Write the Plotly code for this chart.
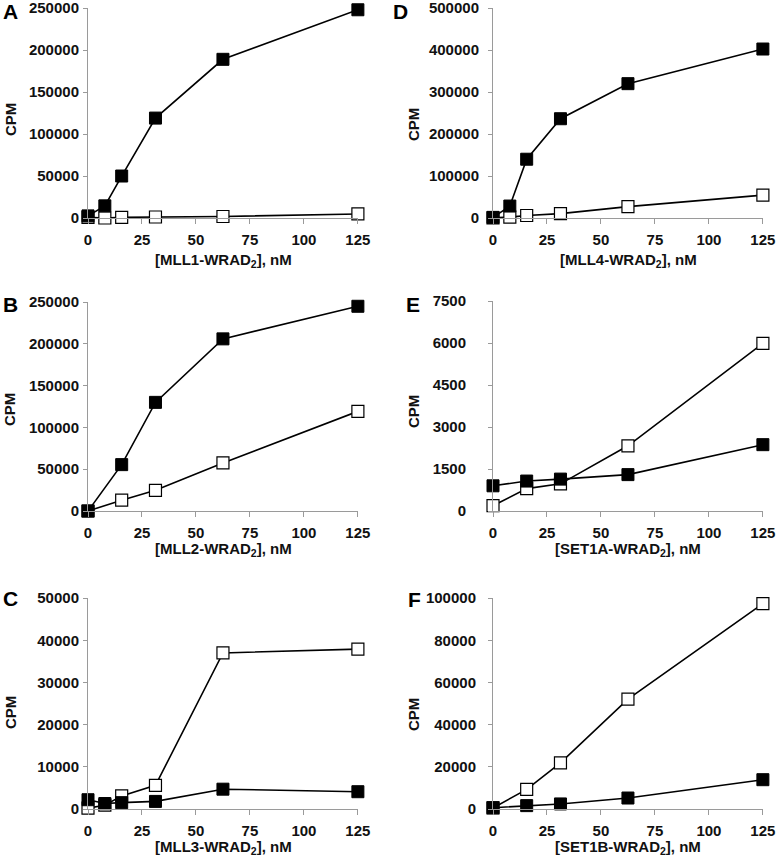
import plotly.graph_objects as go

# ---- data ----
x6 = [0, 7.8, 15.6, 31.25, 62.5, 125]
x5 = [0, 15.6, 31.25, 62.5, 125]

a_filled = [2500, 14500, 50000, 119000, 189000, 248000]
a_open = [800, 0, 800, 1200, 1800, 4800]

b_filled = [0, 55500, 130000, 206000, 245000]
b_open = [0, 13000, 24800, 57500, 119300]

c_filled = [2200, 1300, 1500, 1800, 4700, 4100]
c_open = [200, 900, 3100, 5600, 37000, 37900]

d_filled = [1500, 28500, 140000, 236500, 320000, 402500]
d_open = [500, 2000, 6000, 10500, 27000, 54500]

e_filled = [900, 1070, 1140, 1300, 2370]
e_open = [190, 800, 970, 2330, 5990]

f_filled = [600, 1600, 2400, 5200, 13900]
f_open = [500, 9300, 21900, 52100, 97400]

ytops = {"A": 250000, "B": 250000, "C": 50000, "D": 500000, "E": 7500, "F": 100000}
xtitles = {"A": "MLL1", "B": "MLL2", "C": "MLL3", "D": "MLL4", "E": "SET1A", "F": "SET1B"}

panels = [
    ("A", x6, a_filled, a_open),
    ("B", x5, b_filled, b_open),
    ("C", x6, c_filled, c_open),
    ("D", x6, d_filled, d_open),
    ("E", x5, e_filled, e_open),
    ("F", x5, f_filled, f_open),
]

W, H = 777, 860
FONT = "Liberation Sans, Arial, sans-serif"

# pixel geometry
cols = {"A": (88, 358), "B": (88, 358), "C": (88, 358),
        "D": (493, 763), "E": (493, 763), "F": (493, 763)}
rows = {"A": (8, 218), "D": (8, 218), "B": (302, 511), "E": (301, 511),
        "C": (598, 809), "F": (598, 809)}
standoff = {"A": 1, "B": 1, "C": 1, "D": 6, "E": 19, "F": 9}
letter_pos = {"A": (10, 11), "B": (10, 304), "C": (10, 598),
              "D": (400, 11), "E": (413, 304), "F": (414, 599)}
cpm_pos = {"A": (10, 120), "B": (10, 410), "C": (10, 713),
           "D": (413, 125), "E": (413, 412), "F": (413, 715)}

fig = go.Figure()
annotations = []
for i, (key, xs, yf, yo) in enumerate(panels):
    n = i + 1
    xa = "x" if n == 1 else f"x{n}"
    ya = "y" if n == 1 else f"y{n}"
    fig.add_trace(go.Scatter(
        x=xs, y=yo, xaxis=xa, yaxis=ya, mode="lines+markers",
        line=dict(color="black", width=1.6),
        marker=dict(symbol="square", size=12, color="white",
                    line=dict(color="black", width=1.2)),
        cliponaxis=False, showlegend=False))
    fig.add_trace(go.Scatter(
        x=xs, y=yf, xaxis=xa, yaxis=ya, mode="lines+markers",
        line=dict(color="black", width=1.6),
        marker=dict(symbol="square", size=12, color="black",
                    line=dict(color="black", width=1)),
        cliponaxis=False, showlegend=False))

    x0, x1 = cols[key]
    t, b = rows[key]
    xname = "xaxis" if n == 1 else f"xaxis{n}"
    yname = "yaxis" if n == 1 else f"yaxis{n}"
    top = ytops[key]
    fig.update_layout(**{
        xname: dict(domain=[x0 / W, x1 / W], anchor=ya, range=[0, 125.05],
                    tickvals=[0, 25, 50, 75, 100, 125], showgrid=False,
                    zeroline=False, showline=True, linecolor="#9a9a9a",
                    linewidth=1, ticks="outside", ticklen=5, tickcolor="#9a9a9a",
                    ticklabelstandoff=3, automargin=False,
                    ticklabeloverflow="allow",
                    tickfont=dict(family=FONT, size=15, color="#111", weight="bold")),
        yname: dict(domain=[1 - b / H, 1 - t / H], anchor=xa,
                    range=[0, top * 1.0005],
                    tickvals=[top * k / 5 for k in range(6)],
                    tickformat="d", showgrid=False, zeroline=False,
                    showline=True, linecolor="#9a9a9a", linewidth=1,
                    ticks="outside", ticklen=4, tickcolor="#9a9a9a",
                    ticklabelstandoff=standoff[key], automargin=False,
                    ticklabeloverflow="allow",
                    tickfont=dict(family=FONT, size=15, color="#111", weight="bold")),
    })
    lx, ly = letter_pos[key]
    annotations.append(dict(text=f"<b>{key}</b>", x=lx / W, y=1 - ly / H,
                            xref="paper", yref="paper", showarrow=False,
                            xanchor="center", yanchor="middle",
                            font=dict(family=FONT, size=21, color="black")))
    cx, cy = cpm_pos[key]
    annotations.append(dict(text="<b>CPM</b>", x=cx / W, y=1 - cy / H,
                            xref="paper", yref="paper", showarrow=False,
                            textangle=-90, xanchor="center", yanchor="middle",
                            font=dict(family=FONT, size=15, color="#111")))
    ty = b + 42 if key in ("A", "D") else b + 38
    annotations.append(dict(text=f"<b>[{xtitles[key]}-WRAD<sub>2</sub>], nM</b>",
                            x=(x0 + x1) / 2 / W, y=1 - ty / H,
                            xref="paper", yref="paper", showarrow=False,
                            xanchor="center", yanchor="middle",
                            font=dict(family=FONT, size=15, color="#111")))

fig.update_layout(width=W, height=H, margin=dict(l=0, r=0, t=0, b=0),
                  plot_bgcolor="white", paper_bgcolor="white",
                  annotations=annotations)
fig.write_html("out.html", config={"displayModeBar": False},
               post_script="document.body.style.margin='0px';document.body.style.overflow='hidden';")
